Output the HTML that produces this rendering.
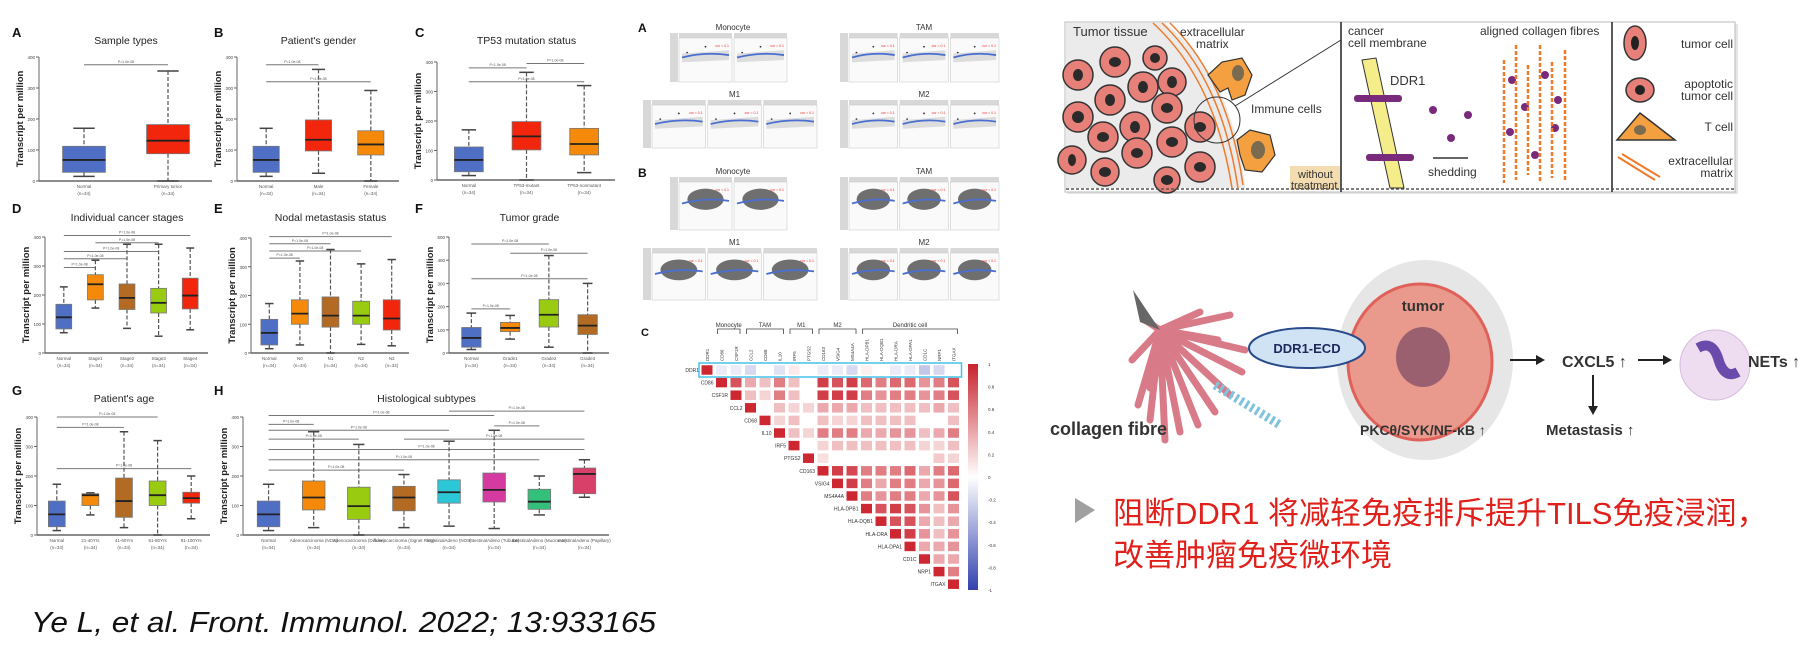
<!DOCTYPE html>
<html><head><meta charset="utf-8">
<style>
html,body{margin:0;padding:0;background:#fff;}
svg{display:block;font-family:"Liberation Sans","Noto Sans CJK SC",sans-serif;}
</style></head>
<body>
<svg id="root" width="1800" height="654" viewBox="0 0 1800 654" xmlns="http://www.w3.org/2000/svg">
<g id="boxes"></g>
<g id="scatters"></g>
<g id="heat"></g>

<!-- top-right illustration -->
<g>
  <rect x="1067" y="24" width="671" height="170" fill="#ccc" opacity="0.5"/>
  <rect x="1065" y="22" width="670" height="170" fill="#fff" stroke="#bbb" stroke-width="1"/>
  <path d="M1066 23 L1165 23 Q1235 80 1245 188 L1066 188 Z" fill="#ebebeb"/>
  <g fill="#e8807a" stroke="#333" stroke-width="1.5">
    <circle cx="1115" cy="62" r="15"/><circle cx="1155" cy="58" r="12"/><circle cx="1078" cy="75" r="15"/><circle cx="1143" cy="87" r="15"/>
    <circle cx="1172" cy="82" r="14"/><circle cx="1110" cy="100" r="15"/><circle cx="1078" cy="117" r="15"/><circle cx="1167" cy="108" r="15"/>
    <circle cx="1135" cy="127" r="15"/><circle cx="1200" cy="127" r="15"/><circle cx="1172" cy="142" r="15"/><circle cx="1103" cy="137" r="15"/>
    <circle cx="1072" cy="160" r="14"/><circle cx="1137" cy="153" r="15"/><circle cx="1105" cy="172" r="14"/><circle cx="1167" cy="180" r="13"/><circle cx="1200" cy="167" r="15"/>
  </g>
  <g fill="#2a2a2a">
    <ellipse cx="1115" cy="62" rx="6" ry="5"/><ellipse cx="1155" cy="58" rx="5" ry="5"/><ellipse cx="1078" cy="75" rx="5" ry="6"/><ellipse cx="1143" cy="87" rx="5" ry="6"/>
    <ellipse cx="1172" cy="82" rx="5" ry="6"/><ellipse cx="1110" cy="100" rx="5" ry="6"/><ellipse cx="1078" cy="117" rx="6" ry="6"/><ellipse cx="1167" cy="108" rx="6" ry="5"/>
    <ellipse cx="1135" cy="127" rx="5" ry="6"/><ellipse cx="1200" cy="127" rx="6" ry="5"/><ellipse cx="1172" cy="142" rx="6" ry="5"/><ellipse cx="1103" cy="137" rx="6" ry="5"/>
    <ellipse cx="1072" cy="160" rx="4" ry="6"/><ellipse cx="1137" cy="153" rx="6" ry="5"/><ellipse cx="1105" cy="172" rx="6" ry="5"/><ellipse cx="1167" cy="180" rx="6" ry="5"/><ellipse cx="1200" cy="167" rx="6" ry="5"/>
  </g>
  <path d="M1153 23 Q1215 80 1232 188 M1162 23 Q1222 80 1238 188 M1170 23 Q1228 80 1243 185" stroke="#f07a2a" stroke-width="1.5" fill="none"/>
  <path d="M1208 75 L1222 62 L1242 58 L1252 75 L1245 95 L1232 100 L1228 88 L1220 92 Z" fill="#f5a040" stroke="#333" stroke-width="1.2"/>
  <ellipse cx="1238" cy="73" rx="6" ry="8" fill="#7a6a50"/>
  <path d="M1237 140 L1250 130 L1270 135 L1275 155 L1262 172 L1245 170 L1240 155 Z" fill="#f5a040" stroke="#333" stroke-width="1.2"/>
  <ellipse cx="1258" cy="150" rx="7" ry="9" fill="#7a6a50"/>
  <circle cx="1217" cy="120" r="23" fill="none" stroke="#333" stroke-width="1"/>
  <line x1="1235" y1="106" x2="1341" y2="40" stroke="#333" stroke-width="1"/>
  <text x="1073" y="36" font-size="13" fill="#333">Tumor tissue</text>
  <text x="1180" y="36" font-size="12" fill="#333">extracellular</text>
  <text x="1196" y="48" font-size="12" fill="#333">matrix</text>
  <text x="1251" y="113" font-size="12" fill="#333">Immune cells</text>
  <rect x="1290" y="166" width="50" height="24" fill="#f3dcb0"/>
  <text x="1298" y="178" font-size="11" fill="#333">without</text>
  <text x="1291" y="189" font-size="11" fill="#333">treatment</text>
  <line x1="1341" y1="22" x2="1341" y2="192" stroke="#222" stroke-width="1.5"/>
  <line x1="1612" y1="22" x2="1612" y2="192" stroke="#222" stroke-width="1.5"/>
  <line x1="1066" y1="189" x2="1735" y2="189" stroke="#555" stroke-width="1.5" stroke-dasharray="3,2"/>
  <text x="1348" y="35" font-size="12" fill="#333">cancer</text>
  <text x="1348" y="47" font-size="12" fill="#333">cell membrane</text>
  <text x="1480" y="35" font-size="12" fill="#333">aligned collagen fibres</text>
  <path d="M1362 60 L1376 58 L1404 188 L1390 188 Z" fill="#f5ec8a" stroke="#333" stroke-width="1"/>
  <g fill="#7a2a7a"><rect x="1354" y="95" width="48" height="7" rx="3"/><rect x="1366" y="154" width="48" height="7" rx="3"/>
  <circle cx="1433" cy="110" r="4"/><circle cx="1468" cy="115" r="4"/><circle cx="1451" cy="138" r="4"/>
  <circle cx="1512" cy="80" r="4"/><circle cx="1545" cy="75" r="4"/><circle cx="1558" cy="100" r="4"/><circle cx="1525" cy="107" r="4"/><circle cx="1510" cy="132" r="4"/><circle cx="1555" cy="128" r="4"/><circle cx="1535" cy="155" r="4"/></g>
  <text x="1390" y="85" font-size="13" fill="#333">DDR1</text>
  <line x1="1433" y1="158" x2="1468" y2="158" stroke="#333" stroke-width="1.5"/>
  <text x="1428" y="176" font-size="12" fill="#333">shedding</text>
  <path d="M1504 60 L1504 183 M1516 45 L1516 180 M1528 65 L1528 175 M1540 45 L1540 183 M1552 62 L1552 178 M1565 50 L1565 180" stroke="#f07a2a" stroke-width="2.5" fill="none" stroke-dasharray="4,2"/>
  <ellipse cx="1635" cy="43" rx="11" ry="17" fill="#e8807a" stroke="#333" stroke-width="1.5"/><ellipse cx="1635" cy="43" rx="4" ry="7" fill="#222"/>
  <text x="1733" y="48" font-size="12" fill="#333" text-anchor="end">tumor cell</text>
  <ellipse cx="1640" cy="90" rx="14" ry="12" fill="#e8807a" stroke="#333" stroke-width="1.5"/><circle cx="1640" cy="90" r="5" fill="#222"/>
  <text x="1733" y="88" font-size="12" fill="#333" text-anchor="end">apoptotic</text>
  <text x="1733" y="100" font-size="12" fill="#333" text-anchor="end">tumor cell</text>
  <path d="M1617 140 L1640 113 L1675 140 Z" fill="#f5a040" stroke="#333" stroke-width="1.5"/><ellipse cx="1640" cy="130" rx="6" ry="5" fill="#7a6a50"/>
  <text x="1733" y="131" font-size="12" fill="#333" text-anchor="end">T cell</text>
  <path d="M1618 157 L1655 180 M1622 154 L1660 177" stroke="#f07a2a" stroke-width="2"/>
  <text x="1733" y="165" font-size="12" fill="#333" text-anchor="end">extracellular</text>
  <text x="1733" y="177" font-size="12" fill="#333" text-anchor="end">matrix</text>
</g>

<!-- mechanism diagram -->
<g>
  <g stroke="#d97a88" stroke-width="7" stroke-linecap="round">
    <line x1="1160" y1="330" x2="1138" y2="405"/><line x1="1160" y1="330" x2="1150" y2="420"/><line x1="1160" y1="330" x2="1165" y2="440"/>
    <line x1="1160" y1="330" x2="1180" y2="432"/><line x1="1160" y1="330" x2="1198" y2="425"/><line x1="1160" y1="330" x2="1215" y2="412"/>
    <line x1="1160" y1="330" x2="1230" y2="395"/><line x1="1160" y1="330" x2="1242" y2="372"/><line x1="1160" y1="330" x2="1245" y2="350"/>
    <line x1="1160" y1="330" x2="1230" y2="315"/><line x1="1160" y1="330" x2="1200" y2="312"/><line x1="1160" y1="330" x2="1145" y2="320"/>
    <line x1="1160" y1="330" x2="1132" y2="360"/><line x1="1160" y1="330" x2="1150" y2="388"/><line x1="1160" y1="330" x2="1218" y2="340"/>
  </g>
  <path d="M1160 330 L1133 290 L1140 322 Z" fill="#666"/>
  <path d="M1215 385 L1280 425" stroke="#7fc4dc" stroke-width="9" stroke-dasharray="3,3"/>
  <text x="1050" y="435" font-size="18" font-weight="bold" fill="#333">collagen fibre</text>
  <ellipse cx="1425" cy="360" rx="88" ry="100" fill="#e6e6e6"/>
  <ellipse cx="1420" cy="362" rx="72" ry="78" fill="#ea9a8c" stroke="#e0605a" stroke-width="3"/>
  <ellipse cx="1423" cy="357" rx="27" ry="30" fill="#9a6070"/>
  <text x="1423" y="311" font-size="15" font-weight="bold" text-anchor="middle" fill="#333">tumor</text>
  <ellipse cx="1307" cy="348" rx="58" ry="20" fill="#cfe3f5" stroke="#2a4a8a" stroke-width="2"/>
  <text x="1307" y="353" font-size="13" font-weight="bold" text-anchor="middle" fill="#1a2a5a">DDR1-ECD</text>
  <text x="1360" y="435" font-size="14" font-weight="bold" fill="#333">PKCθ/SYK/NF-κB ↑</text>
  <line x1="1510" y1="360" x2="1537" y2="360" stroke="#222" stroke-width="2"/><path d="M1536 355 L1545 360 L1536 365 Z" fill="#222"/>
  <text x="1562" y="367" font-size="16" font-weight="bold" fill="#333">CXCL5 ↑</text>
  <line x1="1638" y1="360" x2="1664" y2="360" stroke="#222" stroke-width="2"/><path d="M1663 355 L1672 360 L1663 365 Z" fill="#222"/>
  <circle cx="1715" cy="365" r="35" fill="#eedcf0" stroke="#d8bce0"/>
  <path d="M1698 348 Q1712 340 1718 358 Q1724 380 1738 372" stroke="#6a4aaa" stroke-width="10" fill="none"/>
  <text x="1748" y="367" font-size="16" font-weight="bold" fill="#333">NETs ↑</text>
  <line x1="1593" y1="375" x2="1593" y2="408" stroke="#222" stroke-width="2"/><path d="M1588 406 L1593 415 L1598 406 Z" fill="#222"/>
  <text x="1546" y="435" font-size="15" font-weight="bold" fill="#333">Metastasis ↑</text>
</g>

<g>
  <path d="M1075 498 L1095 510 L1075 523 Z" fill="#a0a0a0"/>
  <text x="1113" y="524" font-size="31" fill="#e0201a" font-family="Liberation Sans, Noto Sans CJK SC, sans-serif">阻断DDR1 将减轻免疫排斥提升TILS免疫浸润，</text>
  <text x="1113" y="566" font-size="31" fill="#e0201a" font-family="Liberation Sans, Noto Sans CJK SC, sans-serif">改善肿瘤免疫微环境</text>
</g>

<text x="31" y="632" font-size="29" font-style="italic" fill="#111" textLength="625" lengthAdjust="spacingAndGlyphs">Ye L, et al. Front. Immunol. 2022; 13:933165</text>
</svg>

<script>
const NS = "http://www.w3.org/2000/svg";
function mk(parent, tag, attrs, txt) {
  const e = document.createElementNS(NS, tag);
  for (const k in attrs) e.setAttribute(k, attrs[k]);
  if (txt !== undefined) e.textContent = txt;
  parent.appendChild(e);
  return e;
}

// ---------- Box plot data ----------
const aCats = ["Normal","Primary tumor"];
const aMin = [15, 0]; const aQ1 = [28, 88]; const aMed = [68, 130]; const aQ3 = [112, 182]; const aMax = [170, 355];
const bCats = ["Normal","Male","Female"];
const bMin = [15, 25, 0]; const bQ1 = [28, 97, 84]; const bMed = [68, 133, 118]; const bQ3 = [112, 197, 162]; const bMax = [170, 360, 292];
const cCats = ["Normal","TP53-mutant","TP53-nonmutant"];
const cMin = [15, 0, 25]; const cQ1 = [28, 102, 85]; const cMed = [68, 148, 122]; const cQ3 = [112, 198, 175]; const cMax = [170, 365, 320];
const dCats = ["Normal","Stage1","Stage2","Stage3","Stage4"];
const dMin = [70, 155, 85, 58, 80]; const dQ1 = [83, 183, 150, 138, 152]; const dMed = [123, 237, 190, 173, 198]; const dQ3 = [168, 270, 238, 223, 258]; const dMax = [228, 320, 375, 375, 362];
const eCats = ["Normal","N0","N1","N2","N3"];
const eMin = [15, 28, 0, 30, 25]; const eQ1 = [28, 100, 90, 100, 80]; const eMed = [70, 137, 130, 130, 120]; const eQ3 = [117, 185, 195, 180, 185]; const eMax = [172, 320, 360, 310, 325];
const fCats = ["Normal","Grade1","Grade2","Grade3"];
const fMin = [15, 60, 25, 0]; const fQ1 = [25, 92, 112, 80]; const fMed = [65, 108, 165, 118]; const fQ3 = [110, 132, 230, 165]; const fMax = [172, 162, 420, 300];
const gCats = ["Normal","21-40Yrs","41-60Yrs","61-80Yrs","81-100Yrs"];
const gMin = [15, 68, 25, 0, 55]; const gQ1 = [28, 100, 60, 100, 108]; const gMed = [70, 135, 115, 135, 125]; const gQ3 = [115, 140, 193, 183, 145]; const gMax = [172, 143, 350, 320, 200];
const hCats = ["Normal","Adenocarcinoma (NOS)","Adenocarcinoma (Diffuse)","Adenocarcinoma (Signet Ring)","IntestinalAdeno (NOS)","IntestinalAdeno (Tubular)","IntestinalAdeno (Mucinous)","IntestinalAdeno (Papillary)"];
const hMin = [15, 25, 0, 25, 30, 22, 68, 128]; const hQ1 = [28, 85, 53, 82, 108, 112, 87, 140]; const hMed = [70, 127, 98, 127, 145, 153, 113, 207]; const hQ3 = [115, 183, 162, 165, 187, 210, 155, 227]; const hMax = [172, 350, 307, 205, 318, 355, 200, 255];
const yTicks400 = [0, 100, 200, 300, 400];
const yTicks500 = [0, 100, 200, 300, 400, 500];

const COL = {blue:"#4f6fc4",red:"#f2250d",orange:"#f58a0a",brown:"#b36a22",lime:"#99cc11",cyan:"#2cc7d6",mag:"#d43aa0",grn:"#33c07a",pink:"#d8406a"};

const panels = [
  {id:"a",L:"A",title:"Sample types",x0:42,x1:210,yt:57,yb:181,ymax:400,ticks:yTicks400,cats:aCats,mn:aMin,q1:aQ1,md:aMed,q3:aQ3,mx:aMax,cols:[COL.blue,COL.red],bw:0.51,lx:12,ly:37,tl:44,
   br:[[0,1,375]]},
  {id:"b",L:"B",title:"Patient's gender",x0:240,x1:397,yt:57,yb:181,ymax:400,ticks:yTicks400,cats:bCats,mn:bMin,q1:bQ1,md:bMed,q3:bQ3,mx:bMax,cols:[COL.blue,COL.red,COL.orange],bw:0.5,lx:214,ly:37,tl:44,
   br:[[0,1,375],[0,2,320]]},
  {id:"c",L:"C",title:"TP53 mutation status",x0:440,x1:613,yt:62,yb:180,ymax:400,ticks:yTicks400,cats:cCats,mn:cMin,q1:cQ1,md:cMed,q3:cQ3,mx:cMax,cols:[COL.blue,COL.red,COL.orange],bw:0.5,lx:415,ly:37,tl:44,
   br:[[0,1,380],[1,2,395],[0,2,333]]},
  {id:"d",L:"D",title:"Individual cancer stages",x0:48,x1:206,yt:237,yb:353,ymax:400,ticks:yTicks400,cats:dCats,mn:dMin,q1:dQ1,md:dMed,q3:dQ3,mx:dMax,cols:[COL.blue,COL.orange,COL.brown,COL.lime,COL.red],bw:0.5,lx:12,ly:213,tl:221,
   br:[[0,4,405],[1,3,380],[0,3,350],[0,2,325],[0,1,295]]},
  {id:"e",L:"E",title:"Nodal metastasis status",x0:254,x1:407,yt:238,yb:353,ymax:400,ticks:yTicks400,cats:eCats,mn:eMin,q1:eQ1,md:eMed,q3:eQ3,mx:eMax,cols:[COL.blue,COL.orange,COL.brown,COL.lime,COL.red],bw:0.55,lx:214,ly:213,tl:221,
   br:[[0,4,405],[0,2,380],[0,3,355],[0,1,330]]},
  {id:"f",L:"F",title:"Tumor grade",x0:452,x1:607,yt:237,yb:353,ymax:500,ticks:yTicks500,cats:fCats,mn:fMin,q1:fQ1,md:fMed,q3:fQ3,mx:fMax,cols:[COL.blue,COL.orange,COL.lime,COL.brown],bw:0.5,lx:415,ly:213,tl:221,
   br:[[0,2,470],[1,3,430],[0,3,320],[0,1,190]]},
  {id:"g",L:"G",title:"Patient's age",x0:40,x1:208,yt:417,yb:535,ymax:400,ticks:yTicks400,cats:gCats,mn:gMin,q1:gQ1,md:gMed,q3:gQ3,mx:gMax,cols:[COL.blue,COL.orange,COL.brown,COL.lime,COL.red],bw:0.5,lx:12,ly:395,tl:402,
   br:[[0,3,400],[0,2,365],[0,4,225]]},
  {id:"h",L:"H",title:"Histological subtypes",x0:246,x1:607,yt:417,yb:535,ymax:400,ticks:yTicks400,cats:hCats,mn:hMin,q1:hQ1,md:hMed,q3:hQ3,mx:hMax,cols:[COL.blue,COL.orange,COL.lime,COL.brown,COL.cyan,COL.mag,COL.grn,COL.pink],bw:0.5,lx:214,ly:395,tl:402,
   br:[[4,7,420],[0,5,405],[0,1,375],[5,6,370],[0,4,355],[0,2,325],[3,7,325],[0,7,290],[0,6,255],[0,3,220]]}
];

const boxes = document.getElementById("boxes");
panels.forEach(p => {
  const g = mk(boxes, "g", {});
  
  
  const n = p.cats.length;
  const band = (p.x1 - p.x0) / n;
  const xs = i => p.x0 + band * (i + 0.5);
  const ys = v => p.yb - (v / p.ymax) * (p.yb - p.yt);
  const lab = mk(g, "text", {x:p.lx, y:p.ly, "font-size":13, "font-weight":"bold", fill:"#111"}, p.L);
  
  
  const tt = mk(g, "text", {x:(p.x0+p.x1)/2, y:p.tl, "font-size":10.5, "text-anchor":"middle", fill:"#222"}, p.title);
  
  
  const yl = mk(g, "text", {x:0, y:0, "font-size":9.5, "font-weight":"bold", fill:"#222", "text-anchor":"middle",
    transform:`translate(${p.x0-19},${(p.yt+p.yb)/2}) rotate(-90)`}, "Transcript per million");
  
  
  mk(g, "line", {x1:p.x0-3, y1:p.yt, x2:p.x0-3, y2:p.yb, stroke:"#666", "stroke-width":1});
  mk(g, "line", {x1:p.x0-3, y1:p.yb, x2:p.x1+2, y2:p.yb, stroke:"#666", "stroke-width":1.5});
  p.ticks.forEach(t => {
    mk(g, "line", {x1:p.x0-6, y1:ys(t), x2:p.x0-3, y2:ys(t), stroke:"#666"});
    const tl = mk(g, "text", {x:p.x0-7, y:ys(t)+2, "font-size":4.5, "text-anchor":"end", fill:"#444"}, t);
    
    
  });
  p.br.forEach(b => {
    const by = ys(b[2]);
    mk(g, "line", {x1:xs(b[0]), y1:by, x2:xs(b[1]), y2:by, stroke:"#777", "stroke-width":1});
    mk(g, "text", {x:(xs(b[0])+xs(b[1]))/2, y:by-2, "font-size":3.5, "text-anchor":"middle", fill:"#555"}, "P=1.0e-08");
  });
  const bw = band * p.bw;
  for (let i = 0; i < n; i++) {
    const cx = xs(i);
    const bg = mk(g, "g", {});
    
    
    mk(bg, "line", {x1:cx, y1:ys(p.mx[i]), x2:cx, y2:ys(p.q3[i]), stroke:"#555", "stroke-width":1.2, "stroke-dasharray":"4,2"});
    mk(bg, "line", {x1:cx, y1:ys(p.q1[i]), x2:cx, y2:ys(p.mn[i]), stroke:"#555", "stroke-width":1.2, "stroke-dasharray":"4,2"});
    mk(bg, "line", {x1:cx-bw/4, y1:ys(p.mx[i]), x2:cx+bw/4, y2:ys(p.mx[i]), stroke:"#444", "stroke-width":1.5});
    mk(bg, "line", {x1:cx-bw/4, y1:ys(p.mn[i]), x2:cx+bw/4, y2:ys(p.mn[i]), stroke:"#444", "stroke-width":1.5});
    mk(bg, "rect", {x:cx-bw/2, y:ys(p.q3[i]), width:bw, height:ys(p.q1[i])-ys(p.q3[i]), fill:p.cols[i], stroke:"#777", "stroke-width":0.8});
    mk(bg, "line", {x1:cx-bw/2, y1:ys(p.md[i]), x2:cx+bw/2, y2:ys(p.md[i]), stroke:"#222", "stroke-width":1.8});
    const xl = mk(g, "text", {x:cx, y:p.yb+7, "font-size":4.5, "text-anchor":"middle", fill:"#555"}, p.cats[i]);
    
    
    mk(g, "text", {x:cx, y:p.yb+14, "font-size":4.5, "text-anchor":"middle", fill:"#555"}, "(n=34)");
  }
});

// ---------- Scatter panels (middle top) ----------
const scatterPanels = [
  {name:"a-monocyte", t:"Monocyte", x:678, y:33, w:110, h:49, k:2, dense:false},
  {name:"a-tam", t:"TAM", x:848, y:33, w:152, h:49, k:3, dense:false},
  {name:"a-m1", t:"M1", x:651, y:100, w:167, h:48, k:3, dense:false},
  {name:"a-m2", t:"M2", x:848, y:100, w:152, h:48, k:3, dense:false},
  {name:"b-monocyte", t:"Monocyte", x:678, y:177, w:110, h:53, k:2, dense:true},
  {name:"b-tam", t:"TAM", x:848, y:177, w:152, h:53, k:3, dense:true},
  {name:"b-m1", t:"M1", x:651, y:248, w:167, h:52, k:3, dense:true},
  {name:"b-m2", t:"M2", x:848, y:248, w:152, h:52, k:3, dense:true}
];
const sc = document.getElementById("scatters");
mk(sc, "text", {x:638, y:32, "font-size":12, "font-weight":"bold", fill:"#111"}, "A");
mk(sc, "text", {x:638, y:177, "font-size":12, "font-weight":"bold", fill:"#111"}, "B");
scatterPanels.forEach(s => {
  const g = mk(sc, "g", {});
  
  
  mk(g, "text", {x:s.x+s.w/2, y:s.y-3, "font-size":8, "text-anchor":"middle", fill:"#333"}, s.t);
  mk(g, "rect", {x:s.x-8, y:s.y, width:8, height:s.h, fill:"#d8d8d8"});
  const pw = s.w / s.k;
  for (let j = 0; j < s.k; j++) {
    const px = s.x + j*pw;
    mk(g, "rect", {x:px+1, y:s.y, width:pw-2, height:5, fill:"#d8d8d8"});
    mk(g, "rect", {x:px+1, y:s.y+5, width:pw-2, height:s.h-5, fill:"#fafafa", stroke:"#ccc", "stroke-width":0.6});
    if (s.dense) {
      mk(g, "ellipse", {cx:px+pw/2, cy:s.y+s.h*0.42, rx:pw*0.33, ry:s.h*0.2, fill:"#333", opacity:0.7});
    } else {
      for (let q = 1; q < 6; q++) mk(g, "circle", {cx:px+pw*q/6, cy:s.y+s.h*(0.4+0.12*((q%3)-1)), r:0.9, fill:"#333"});
      mk(g, "path", {d:`M${px+4} ${s.y+s.h*0.42} L${px+pw-4} ${s.y+s.h*0.35} L${px+pw-4} ${s.y+s.h*0.55} L${px+4} ${s.y+s.h*0.6} Z`, fill:"#ddd"});
    }
    mk(g, "path", {d:`M${px+4} ${s.y+s.h*0.5} Q${px+pw/2} ${s.y+s.h*0.38} ${px+pw-4} ${s.y+s.h*0.45}`, stroke:"#4a6fd0", "stroke-width":1.8, fill:"none"});
    mk(g, "text", {x:px+pw-4, y:s.y+14, "font-size":3.5, "text-anchor":"end", fill:"#e33"}, "cor = 0.1");
  }
});

// ---------- Correlation heatmap ----------
const genes = ["DDR1","CD86","CSF1R","CCL2","CD68","IL10","IRF5","PTGS2","CD163","VSIG4","MS4A4A","HLA-DPB1","HLA-DQB1","HLA-DRA","HLA-DPA1","CD1C","NRP1","ITGAX"];
const r0 = [1,-0.1,-0.1,-0.2,0,-0.15,0.1,0,-0.1,-0.1,-0.2,0.07,0,-0.1,-0.1,-0.3,-0.2,0];
const r1 = [1,0.8,0.4,0.3,0.6,0.3,0,0.9,0.8,0.9,0.7,0.6,0.7,0.7,0.5,0.6,0.8];
const r2 = [1,0.3,0.2,0.6,0.3,0,0.9,0.9,0.9,0.6,0.5,0.6,0.6,0.5,0.6,0.8];
const r3 = [1,0,0.3,0.2,0.2,0.4,0.4,0.4,0.3,0.3,0.3,0.3,0.3,0.4,0.3];
const r4 = [1,0.2,0.3,0,0.3,0.2,0.2,0.3,0.3,0.3,0.3,0,0,0.3];
const r5 = [1,0.3,0.2,0.6,0.6,0.6,0.4,0.4,0.5,0.5,0.3,0.4,0.6];
const r6 = [1,0,0.2,0.3,0.3,0.3,0.3,0.3,0.3,0.2,0.2,0.3];
const r7 = [1,0.15,0,0,0,0,0,0,0,0.25,0.2];
const r8 = [1,0.9,0.85,0.6,0.6,0.6,0.7,0.4,0.6,0.7];
const r9 = [1,0.9,0.6,0.4,0.6,0.6,0.4,0.5,0.7];
const r10 = [1,0.6,0.5,0.6,0.6,0.4,0.5,0.8];
const r11 = [1,0.8,0.9,0.8,0.5,0.3,0.5];
const r12 = [1,0.8,0.8,0.4,0.3,0.4];
const r13 = [1,0.9,0.5,0.3,0.5];
const r14 = [1,0.4,0.4,0.5];
const r15 = [1,0.4,0.4];
const r16 = [1,0.6];
const r17 = [1];
const corrRows = [r0,r1,r2,r3,r4,r5,r6,r7,r8,r9,r10,r11,r12,r13,r14,r15,r16,r17];
const groups = [["Monocyte",1,2],["TAM",3,5],["M1",6,7],["M2",8,10],["Dendritic cell",11,17]];
const cbTicks = [1,0.8,0.6,0.4,0.2,0,-0.2,-0.4,-0.6,-0.8,-1];

const hm = document.getElementById("heat");
const HX = 707, HY = 370, PX = 14.5, PY = 12.6, CW = 11, CH = 9.5;
const cx = j => HX + j*PX;
const cy = i => HY + i*PY;
function corrColor(v) {
  const a = Math.min(1, Math.abs(v));
  if (v >= 0) { return `rgb(${Math.round(255-a*50)},${Math.round(255-a*215)},${Math.round(255-a*205)})`; }
  return `rgb(${Math.round(255-a*205)},${Math.round(255-a*190)},${Math.round(255-a*80)})`;
}
mk(hm, "text", {x:641, y:336, "font-size":11, "font-weight":"bold", fill:"#111"}, "C");
genes.forEach((gname, j) => {
  const t = mk(hm, "text", {x:0, y:0, "font-size":4.5, fill:"#333", transform:`translate(${cx(j)+2},${HY-9}) rotate(-90)`}, gname);
  
  
});
groups.forEach(gr => {
  const x1 = cx(gr[1])-4, x2 = cx(gr[2])+4;
  mk(hm, "path", {d:`M${x1} ${HY-36} L${x1} ${HY-41} L${x2} ${HY-41} L${x2} ${HY-36}`, stroke:"#444", fill:"none", "stroke-width":0.8});
  mk(hm, "text", {x:(x1+x2)/2, y:HY-43, "font-size":6, "text-anchor":"middle", fill:"#333"}, gr[0]);
});
corrRows.forEach((row, i) => {
  const rl = mk(hm, "text", {x:cx(i)-8, y:cy(i)+2, "font-size":5, "text-anchor":"end", fill:"#333"}, genes[i]);
  
  
  row.forEach((v, k) => {
    const j = i + k;
    if (Math.abs(v) < 0.05) return;
    const c = mk(hm, "rect", {x:cx(j)-CW/2, y:cy(i)-CH/2, width:CW, height:CH, fill:corrColor(v)});
    
    
  });
});
const hl = mk(hm, "rect", {x:HX-8, y:HY-7, width:PX*17+16, height:14, fill:"none", stroke:"#44c4e8", "stroke-width":1.5});


const defs = mk(hm, "defs", {});
const lg = mk(defs, "linearGradient", {id:"cbg", x1:0, y1:0, x2:0, y2:1});
mk(lg, "stop", {offset:"0", "stop-color":"#c8232d"});
mk(lg, "stop", {offset:"0.5", "stop-color":"#ffffff"});
mk(lg, "stop", {offset:"1", "stop-color":"#3241af"});
const CBT = 364, CBB = 590;
const cb = mk(hm, "rect", {x:968, y:CBT, width:10, height:CBB-CBT, fill:"url(#cbg)"});


cbTicks.forEach(t => {
  const y = CBT + (1 - t) / 2 * (CBB - CBT);
  mk(hm, "text", {x:988, y:y+2, "font-size":4.5, fill:"#333"}, t);
});
</script>
</body></html>
